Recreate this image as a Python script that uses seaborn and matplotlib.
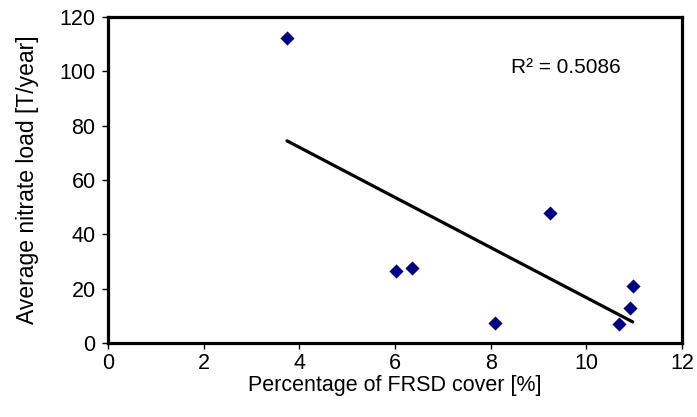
import numpy as np
import pandas as pd
import matplotlib
matplotlib.use("Agg")
import matplotlib.pyplot as plt
import seaborn as sns

# values
frsd_cover = [3.74, 6.03, 6.36, 8.08, 9.25, 10.68, 10.92, 10.97]
nitrate_load = [112.3, 26.6, 27.5, 7.5, 48.0, 6.9, 12.8, 20.9]
x_ticks = [0, 2, 4, 6, 8, 10, 12]
y_ticks = [0, 20, 40, 60, 80, 100, 120]
r2_label = "R\u00b2 = 0.5086"

df = pd.DataFrame({"cover": frsd_cover, "load": nitrate_load})

sns.set_style("white")
plt.rcParams['font.family'] = ['Liberation Sans', 'DejaVu Sans']

fig = plt.figure(figsize=(6.97, 4.17), dpi=100)
ax = fig.add_axes([0.155, 0.1775, 0.8235, 0.7815])

# scatter + linear trend line over the data range
sns.regplot(data=df, x="cover", y="load", ax=ax, ci=None, truncate=True,
            marker="D",
            scatter_kws={"s": 52, "color": "#000080", "alpha": 1,
                         "linewidths": 0, "zorder": 3},
            line_kws={"color": "black", "lw": 2.3, "zorder": 2})

ax.set_xlim(0, 12)
ax.set_ylim(0, 120)
ax.set_xticks(x_ticks)
ax.set_yticks(y_ticks)
ax.tick_params(axis="both", direction="out", length=4, width=1, color="black",
               labelcolor="black", labelsize=15.5, pad=3, bottom=True, left=True)
ax.tick_params(axis="y", pad=5)

for sp in ax.spines.values():
    sp.set_visible(True)
    sp.set_color("black")
    sp.set_linewidth(2.3)

ax.set_xlabel("Percentage of FRSD cover [%]", fontsize=15.5, labelpad=1,
              color="black")
ax.set_ylabel("Average nitrate load [T/year]", fontsize=16.5, labelpad=15,
              color="black")

ax.text(8.43, 101.5, r2_label, fontsize=15, va="center", ha="left",
        color="black")

fig.savefig("out.png", dpi=100)
plt.close(fig)
